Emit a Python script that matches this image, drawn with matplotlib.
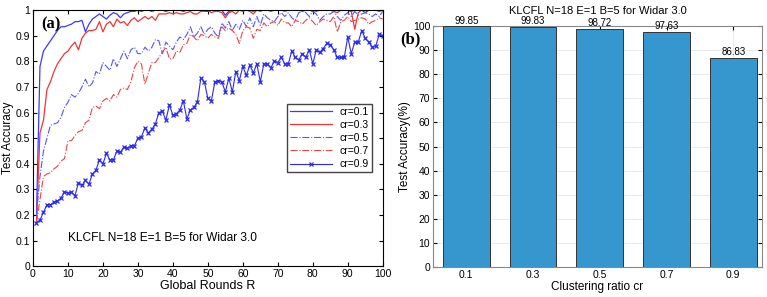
import matplotlib.pyplot as plt
import numpy as np

rounds = np.arange(1, 101)

acc_01 = [0.20, 0.78, 0.84, 0.86, 0.88, 0.90, 0.92, 0.935, 0.935, 0.94,
          0.945, 0.955, 0.955, 0.96, 0.915, 0.945, 0.965, 0.975, 0.985, 0.975,
          0.965, 0.98, 0.99, 0.985, 0.97, 0.985, 0.99, 0.995, 0.995, 1.0,
          0.995, 1.0, 1.0, 0.995, 1.0, 1.0, 1.0, 0.995, 1.0, 1.0,
          1.0, 1.0, 0.995, 1.0, 1.0, 1.0, 1.0, 1.0, 0.995, 0.995,
          1.0, 1.0, 1.0, 1.0, 0.98, 0.995, 1.0, 1.0, 1.0, 1.0,
          1.0, 1.0, 0.995, 1.0, 1.0, 1.0, 1.0, 1.0, 1.0, 1.0,
          1.0, 1.0, 1.0, 1.0, 1.0, 1.0, 1.0, 1.0, 1.0, 0.995,
          1.0, 1.0, 1.0, 1.0, 1.0, 1.0, 1.0, 1.0, 1.0, 1.0,
          0.995, 1.0, 1.0, 1.0, 0.99, 1.0, 1.0, 1.0, 0.995, 1.0]

acc_03 = [0.17, 0.52, 0.57, 0.69, 0.72, 0.76, 0.79, 0.81, 0.83, 0.84,
          0.86, 0.875, 0.845, 0.89, 0.91, 0.92, 0.92, 0.925, 0.955, 0.915,
          0.945, 0.955, 0.935, 0.965, 0.95, 0.955, 0.94, 0.96, 0.97, 0.955,
          0.965, 0.975, 0.965, 0.975, 0.96, 0.985, 0.985, 0.985, 0.99, 0.985,
          0.99, 0.985, 0.985, 0.99, 0.995, 0.985, 0.985, 0.995, 0.995, 1.0,
          0.99, 0.995, 0.995, 0.99, 0.97, 0.99, 0.995, 0.985, 1.0, 0.995,
          1.0, 0.995, 0.985, 1.0, 0.995, 1.0, 1.0, 0.995, 1.0, 1.0,
          1.0, 0.995, 1.0, 1.0, 1.0, 1.0, 0.995, 1.0, 1.0, 1.0,
          0.995, 1.0, 1.0, 1.0, 1.0, 0.995, 0.99, 1.0, 1.0, 1.0,
          0.995, 0.925, 0.99, 1.0, 1.0, 1.0, 1.0, 1.0, 1.0, 1.0]

acc_05 = [0.20, 0.35, 0.45, 0.50, 0.55, 0.555, 0.56, 0.58, 0.62, 0.64,
          0.67, 0.66, 0.675, 0.70, 0.73, 0.70, 0.715, 0.76, 0.75, 0.795,
          0.78, 0.765, 0.81, 0.78, 0.81, 0.84, 0.81, 0.845, 0.855, 0.83,
          0.83, 0.855, 0.84, 0.855, 0.885, 0.88, 0.83, 0.875, 0.86, 0.845,
          0.875, 0.895, 0.885, 0.905, 0.935, 0.895, 0.91, 0.935, 0.905, 0.925,
          0.935, 0.91, 0.895, 0.95, 0.93, 0.955, 0.92, 0.945, 0.925, 0.96,
          0.935, 0.97, 0.935, 0.975, 0.94, 0.985, 0.97, 0.96, 0.955, 0.975,
          0.99, 0.975, 0.99, 0.97, 0.96, 0.99, 0.995, 0.99, 0.975, 0.995,
          0.985, 0.96, 0.975, 0.985, 0.985, 0.995, 0.975, 0.96, 0.98, 0.99,
          0.975, 0.995, 0.98, 0.985, 0.99, 0.985, 0.975, 0.985, 0.975, 0.995]

acc_07 = [0.17, 0.26, 0.35, 0.36, 0.365, 0.38, 0.39, 0.41, 0.42, 0.49,
          0.49, 0.51, 0.525, 0.53, 0.56, 0.57, 0.62, 0.625, 0.615, 0.645,
          0.655, 0.645, 0.67, 0.66, 0.69, 0.695, 0.69, 0.72, 0.775, 0.80,
          0.79, 0.71, 0.755, 0.795, 0.795, 0.815, 0.835, 0.855, 0.81, 0.81,
          0.84, 0.835, 0.865, 0.87, 0.905, 0.895, 0.88, 0.905, 0.90, 0.89,
          0.905, 0.895, 0.89, 0.935, 0.92, 0.93, 0.92, 0.905, 0.87, 0.92,
          0.935, 0.93, 0.89, 0.925, 0.92, 0.95, 0.935, 0.95, 0.955, 0.94,
          0.965, 0.95, 0.95, 0.935, 0.96, 0.955, 0.945, 0.96, 0.97, 0.955,
          0.94, 0.955, 0.965, 0.96, 0.955, 0.975, 0.915, 0.955, 0.96, 0.975,
          0.955, 0.96, 0.965, 0.97, 0.965, 0.945, 0.955, 0.96, 0.97, 0.965]

acc_09 = [0.17, 0.18, 0.21, 0.24, 0.24, 0.25, 0.255, 0.265, 0.29, 0.285,
          0.29, 0.275, 0.325, 0.315, 0.335, 0.32, 0.36, 0.375, 0.415, 0.40,
          0.44, 0.415, 0.415, 0.45, 0.445, 0.465, 0.46, 0.47, 0.47, 0.50,
          0.505, 0.54, 0.52, 0.535, 0.555, 0.60, 0.605, 0.57, 0.63, 0.59,
          0.595, 0.61, 0.645, 0.575, 0.61, 0.62, 0.64, 0.735, 0.72, 0.655,
          0.645, 0.72, 0.725, 0.72, 0.68, 0.735, 0.68, 0.76, 0.725, 0.78,
          0.745, 0.785, 0.755, 0.79, 0.72, 0.79, 0.79, 0.775, 0.80, 0.795,
          0.815, 0.79, 0.79, 0.84, 0.815, 0.805, 0.83, 0.815, 0.845, 0.79,
          0.845, 0.835, 0.85, 0.87, 0.865, 0.845, 0.815, 0.815, 0.815, 0.895,
          0.83, 0.875, 0.875, 0.92, 0.89, 0.875, 0.855, 0.86, 0.905, 0.90]

ratios = ['0.1', '0.3', '0.5', '0.7', '0.9']
final_acc = [99.85, 99.83, 98.72, 97.63, 86.83]

plt.rcParams['font.family'] = 'Liberation Sans'

fig = plt.figure(figsize=(7.67, 2.97), dpi=100)

# (a) curves
ax1 = fig.add_axes([0.043, 0.104, 0.456, 0.862])
blue = '#3a3aff'
red = '#ee3535'
ax1.plot(rounds, acc_01, color=blue, lw=0.9, label='cr=0.1')
ax1.plot(rounds, acc_03, color=red, lw=0.9, label='cr=0.3')
ax1.plot(rounds, acc_05, color='#5555ff', lw=0.8, linestyle='-.', label='cr=0.5')
ax1.plot(rounds, acc_07, color='#ee4444', lw=0.8, linestyle='-.', label='cr=0.7')
ax1.plot(rounds, acc_09, color='#2a2aee', lw=0.8, marker='x', markersize=3.5,
         markeredgewidth=0.9, label='cr=0.9')
ax1.set_xlim(0, 100)
ax1.set_ylim(0, 1)
ax1.set_xticks(np.arange(0, 101, 10))
ax1.set_yticks(np.arange(0, 1.01, 0.1))
ax1.set_yticklabels(['0', '0.1', '0.2', '0.3', '0.4', '0.5', '0.6', '0.7', '0.8', '0.9', '1'])
ax1.tick_params(direction='in', top=True, right=True, labelsize=7.5, length=3, pad=2)
ax1.set_xlabel('Global Rounds R', fontsize=9, labelpad=1)
ax1.set_ylabel('Test Accuracy', fontsize=8.5, labelpad=1)
ax1.text(37, 0.11, 'KLCFL N=18 E=1 B=5 for Widar 3.0', ha='center', va='center', fontsize=8.6)
ax1.text(2.5, 0.945, '(a)', fontsize=12, fontweight='bold', family='Liberation Serif', va='center')
ax1.legend(loc='upper right', bbox_to_anchor=(0.985, 0.655), fontsize=7.5, frameon=True,
           fancybox=False, edgecolor='#444444', framealpha=1, handlelength=4.0,
           borderpad=0.3, labelspacing=0.3, markerfirst=True)

# (b) bars
ax2 = fig.add_axes([0.5645, 0.101, 0.429, 0.811])
xpos = np.arange(len(ratios))
bars = ax2.bar(xpos, final_acc, width=0.7, color='#3597cd', edgecolor='#333333', linewidth=0.7, zorder=3)
for b, v in zip(bars, final_acc):
    ax2.text(b.get_x() + b.get_width() / 2, v + 0.3, f'{v:.2f}', ha='center', va='bottom', fontsize=7)
ax2.set_xticks(xpos)
ax2.set_xticklabels(ratios)
ax2.set_xlim(-0.5, 4.43)
ax2.set_ylim(0, 100)
ax2.set_yticks(np.arange(0, 101, 10))
ax2.grid(True, color='#e6e6e6', linewidth=0.6, zorder=0)
ax2.tick_params(direction='in', top=True, right=True, labelsize=7.5, length=3, pad=2)
ax2.set_xlabel('Clustering ratio cr', fontsize=8.5, labelpad=1)
ax2.set_ylabel('Test Accuracy(%)', fontsize=8.5, labelpad=1)
ax2.set_title('KLCFL N=18 E=1 B=5 for Widar 3.0', fontsize=8, pad=9)
for s in ax2.spines.values():
    s.set_color('#888888')
fig.text(0.522, 0.868, '(b)', fontsize=12, fontweight='bold', family='Liberation Serif', va='center')

fig.savefig('out.png', dpi=100)
